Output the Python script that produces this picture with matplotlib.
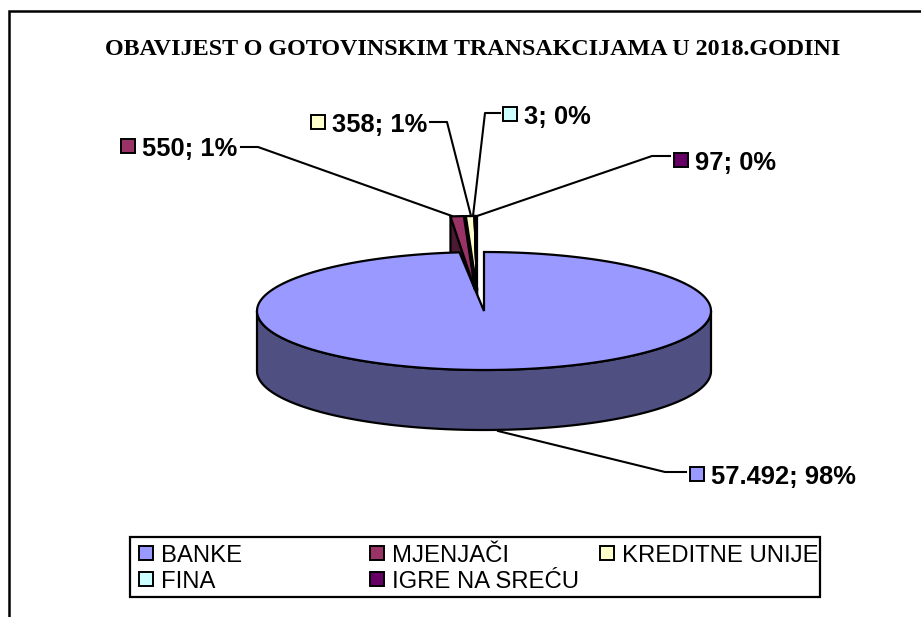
import numpy as np
import matplotlib
matplotlib.use("Agg")
import matplotlib.pyplot as plt
from matplotlib.patches import Polygon, Rectangle

categories = ["BANKE", "MJENJAČI", "KREDITNE UNIJE", "FINA", "IGRE NA SREĆU"]
values = [57492, 550, 358, 3, 97]
percents = [98, 1, 1, 0, 0]
value_text = ["57.492", "550", "358", "3", "97"]
title = "OBAVIJEST O GOTOVINSKIM TRANSAKCIJAMA U 2018.GODINI"
colors = ["#9999FF", "#993366", "#FFFFCC", "#CCFFFF", "#660066"]
dark = ["#4F4F82", "#4C1933", "#7F7F66", "#667F7F", "#330033"]

W, H = 921, 617
fig = plt.figure(figsize=(W / 100, H / 100), dpi=100)
ax = fig.add_axes([0, 0, 1, 1])
ax.set_xlim(0, W)
ax.set_ylim(H, 0)
ax.axis("off")

cx, cy, rx, ry, depth = 484, 311, 227, 59, 60
LW = 1.6


def arc(t0, t1, x0=cx, y0=cy, a=rx, b=ry, n=200):
    t = np.radians(np.linspace(t0, t1, n))
    return np.column_stack([x0 + a * np.sin(t), y0 - b * np.cos(t)])


# frame
ax.plot([9, 9, 921], [617, 11, 11], color="black", lw=1.8, solid_joinstyle="miter")

total = sum(values)
angles = np.concatenate([[0], np.cumsum(values) / total * 360])

# banke wall and top
low = arc(90, 270)
wall = np.vstack([low, (low + [0, depth])[::-1]])
ax.add_patch(Polygon(wall, closed=True, fc=dark[0], ec="black", lw=LW, zorder=2))
top = np.vstack([[[cx, cy]], arc(angles[0], angles[1])])
ax.add_patch(Polygon(top, closed=True, fc=colors[0], ec="black", lw=LW, zorder=3))

# exploded small slices
tip_x = [None, 475, 477, 477, 477]
tip_y, ry_small = 290, 74
for i in range(1, 5):
    tx = tip_x[i]
    a = arc(angles[i], angles[i + 1], tx, tip_y, rx, ry_small, 20)
    s = a[0]
    w = np.array([s, s + [0, 60], [tx, tip_y + 60], [tx, tip_y]])
    ax.add_patch(Polygon(w, closed=True, fc=dark[i], ec="black", lw=LW, zorder=1))
    f = np.vstack([[[tx, tip_y]], a])
    ax.add_patch(Polygon(f, closed=True, fc=colors[i], ec="black", lw=LW, zorder=4 + i))

# leader lines and labels
leaders = {
    0: [(498, 431), (665, 472), (686, 472)],
    1: [(452, 216), (258, 147), (241, 147)],
    2: [(471, 216), (447, 122), (430, 122)],
    3: [(473, 216), (485, 113), (500, 113)],
    4: [(477, 216), (652, 156), (670, 156)],
}
label_pos = {0: (690, 474), 1: (121, 146), 2: (311, 122), 3: (503, 114), 4: (674, 160)}
for i in range(5):
    xs, ys = zip(*leaders[i])
    ax.plot(xs, ys, color="black", lw=1.5, zorder=10)
    lx, ly = label_pos[i]
    ax.add_patch(Rectangle((lx, ly - 7), 14, 14, fc=colors[i], ec="black", lw=1.4, zorder=11))
    ax.text(lx + 21, ly, f"{value_text[i]}; {percents[i]}%", fontsize=18.4, fontweight="bold",
            family="Liberation Sans", va="center_baseline", ha="left", zorder=11)

ax.text(473, 47, title, fontsize=17.3, fontweight="bold", family="Liberation Serif",
        ha="center", va="center_baseline")

# legend
ax.add_patch(Rectangle((130, 537), 690, 60, fc="white", ec="black", lw=1.6, zorder=12))
legend_pos = [(139, 553), (370, 553), (600, 553), (139, 579), (370, 579)]
for i, (lx, ly) in enumerate(legend_pos):
    ax.add_patch(Rectangle((lx, ly - 7), 14, 14, fc=colors[i], ec="black", lw=1.4, zorder=13))
    ax.text(lx + 22, ly, categories[i], fontsize=17.2, family="Liberation Sans",
            va="center_baseline", ha="left", zorder=13)

fig.savefig("out.png", dpi=100)
